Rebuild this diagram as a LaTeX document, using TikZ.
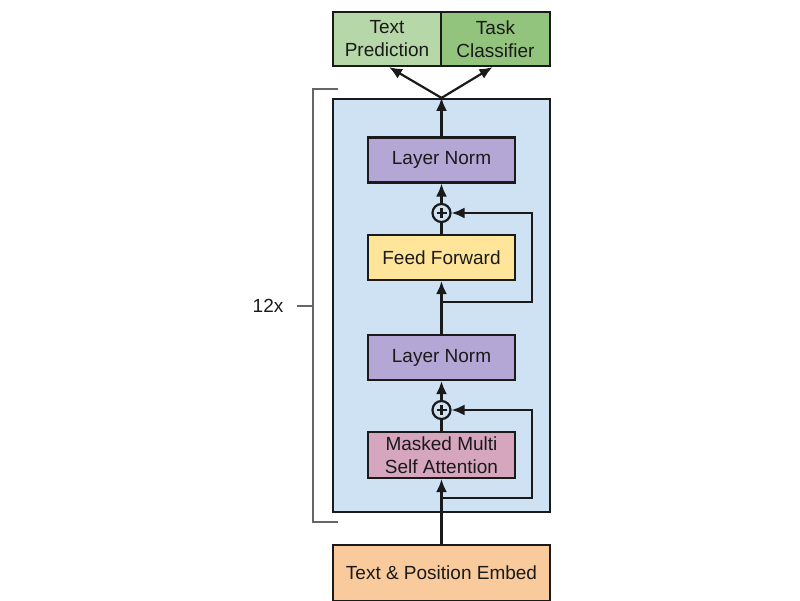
\documentclass[tikz,border=0pt]{standalone}
\usepackage{fontspec}
\setmainfont{Liberation Sans}
\usetikzlibrary{arrows.meta}
\definecolor{predgreen}{HTML}{B6D7A8}
\definecolor{clsgreen}{HTML}{93C47D}
\definecolor{blockblue}{HTML}{CFE2F3}
\definecolor{normpurple}{HTML}{B4A7D6}
\definecolor{ffyellow}{HTML}{FFE599}
\definecolor{attpink}{HTML}{D5A6BD}
\definecolor{embedorange}{HTML}{F9CB9C}
\definecolor{edge}{HTML}{1A1A1A}

\begin{document}
\begin{tikzpicture}[x=1pt,y=-1pt,
        every node/.style={font=\fontsize{19}{23}\selectfont, text=edge},
        box/.style={draw=edge, line width=2.2pt, minimum width=147pt, minimum height=45pt, inner sep=0pt, align=center},
        addnode/.style={draw=edge, line width=2.2pt, circle, minimum size=18pt, inner sep=0pt,
            path picture={\draw[line width=2.2pt] ([yshift=-4pt]path picture bounding box.north) -- ([yshift=4pt]path picture bounding box.south);
                          \draw[line width=2.2pt] ([xshift=4pt]path picture bounding box.west) -- ([xshift=-4pt]path picture bounding box.east);}},
        arr/.style={-{Latex[length=13pt,width=11pt]}, line width=2.2pt, draw=edge},
        line/.style={line width=2.2pt, draw=edge}]
    \useasboundingbox (0,0) rectangle (800,600);

    % stacked block
    \node[box, fill=blockblue, minimum width=217pt, minimum height=413pt] (block) at (441.5,305.5) {};
    \draw[gray!80!black, line width=1.4pt] (338,89) -- (313,89) -- (313,522) -- (338,522);
    \draw[gray!80!black, line width=1.4pt] (297,306) -- (313,306);
    \node (reps) at (268,306) {12x};

    % heads
    \node[box, fill=predgreen, minimum width=108pt, minimum height=54pt] (pred) at (387,39) {Text\\Prediction};
    \node[box, fill=clsgreen, minimum width=109pt, minimum height=54pt] (cls) at (495.5,39) {Task\\Classifier};

    % layers
    \node[box, fill=normpurple] (lntop) at (441.5,160) {Layer Norm};
    \node[addnode] (addtop) at (441.5,213) {};
    \node[box, fill=ffyellow] (ff) at (441.5,257.5) {Feed Forward};
    \node[box, fill=normpurple] (lnbot) at (441.5,357.5) {Layer Norm};
    \node[addnode] (addbot) at (441.5,410) {};
    \node[box, fill=attpink, minimum height=46pt] (att) at (441.5,455) {Masked Multi\\Self Attention};
    \node[box, fill=embedorange, minimum width=217pt, minimum height=56pt] (embed) at (441.5,573) {Text \& Position Embed};

    \coordinate (resbot) at (441.5,498);
    \coordinate (restop) at (441.5,302);

    \draw[arr] (embed.north) -- (att.south);
    \draw[line] (att.north) -- (addbot.south);
    \draw[arr] (addbot.north) -- (lnbot.south);
    \draw[arr] (resbot) -- ++(90.5,0) |- (addbot.east);
    \draw[arr] (lnbot.north) -- (ff.south);
    \draw[arr] (restop) -- ++(90.5,0) |- (addtop.east);
    \draw[line] (ff.north) -- (addtop.south);
    \draw[arr] (addtop.north) -- (lntop.south);
    \draw[arr] (lntop.north) -- (block.north);
    \draw[arr] (block.north) -- ([xshift=2pt]pred.south);
    \draw[arr] (block.north) -- ([xshift=-3pt]cls.south);
\end{tikzpicture}
\end{document}
